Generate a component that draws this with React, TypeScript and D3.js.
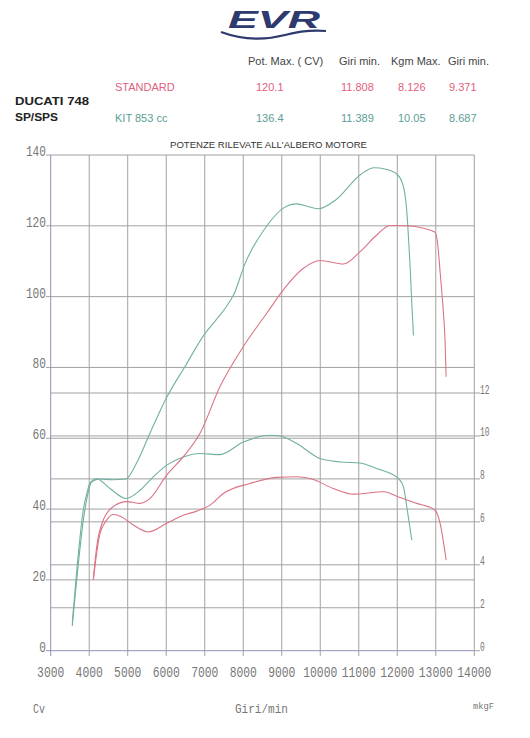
import * as d3 from 'd3';

// header table
const headCols = ['Pot. Max. ( CV)', 'Giri min.', 'Kgm Max.', 'Giri min.'];
const standardRow = ['120.1', '11.808', '8.126', '9.371'];
const kitRow = ['136.4', '11.389', '10.05', '8.687'];

// axes
const rpmTicks = [3000, 4000, 5000, 6000, 7000, 8000, 9000, 10000, 11000, 12000, 13000, 14000];
const cvTicks = [0, 20, 40, 60, 80, 100, 120, 140];
const kgmTicks = [0, 2, 4, 6, 8, 10, 12];

// KIT 853 cc
const kitPowerRpm = [3560, 3675, 3850, 3950, 4065, 4280, 4600, 4950, 5230, 5580, 6010, 6500, 7000, 7300, 7550, 7750, 8050, 8600, 9040, 9390, 9700, 9950, 10400, 11050, 11400, 11700, 12000, 12150, 12240, 12300, 12340, 12380, 12420];
const kitPowerCv = [7, 20, 37, 43.5, 47.7, 48.5, 48.3, 48.5, 53, 61.5, 71.5, 80.5, 89.5, 93.5, 97, 100.5, 109.4, 119.8, 125, 126.2, 125.4, 124.8, 127.3, 134.5, 136.4, 136, 134.5, 131.5, 125, 115, 107, 97.5, 89];
const kitTorqueRpm = [3560, 3680, 3850, 3950, 4020, 4195, 4540, 4956, 5319, 5579, 6013, 6444, 6878, 7397, 8003, 8696, 8956, 9390, 9995, 10514, 11034, 11467, 12030, 12160, 12247, 12377];
const kitTorqueKgm = [1.3, 3.8, 6.6, 7.4, 7.8, 8.0, 7.55, 7.09, 7.47, 7.94, 8.64, 9.02, 9.18, 9.13, 9.72, 10.03, 10.0, 9.65, 8.95, 8.79, 8.74, 8.48, 8.02, 7.63, 6.7, 5.15];

// STANDARD
const stdPowerRpm = [4107, 4195, 4366, 4626, 4974, 5319, 5579, 6013, 6444, 6878, 7397, 8003, 8610, 9040, 9561, 9995, 10600, 11034, 11467, 11808, 12247, 12678, 12982, 13042, 13112, 13182, 13241, 13268];
const stdPowerCv = [20.2, 29.4, 36.9, 40.7, 42.1, 41.6, 43, 49.6, 54.8, 61.4, 74.6, 85.9, 95.3, 101.9, 108, 110.2, 109.2, 112.7, 117.4, 120.1, 120, 119.3, 118.2, 115.5, 107, 97.7, 87.3, 77.4];
const stdTorqueRpm = [4107, 4280, 4454, 4626, 4844, 5145, 5535, 6013, 6444, 6792, 7138, 7483, 8177, 8870, 9390, 9821, 10340, 10860, 11639, 12073, 12506, 12982, 13112, 13268];
const stdTorqueKgm = [3.3, 5.46, 6.08, 6.34, 6.23, 5.85, 5.53, 5.93, 6.31, 6.5, 6.78, 7.32, 7.79, 8.07, 8.1, 7.97, 7.55, 7.29, 7.4, 7.13, 6.86, 6.54, 5.93, 4.22];

const RED = '#dc7384';
const TEAL = '#72b0a2';
const GRID = '#a2a2a2';
const AXIS = '#8b90bd';
const LABEL = '#777';

function App() {
  const width = 530;
  const height = 738;
  const x = d3.scaleLinear([3000, 14000], [50.7, 474.3]);
  const yP = d3.scaleLinear([0, 140], [650.7, 155]);
  const yT = d3.scaleLinear([0, 12], [650.7, 393]);

  const lineOf = (xs: number[], ys: number[], y: d3.ScaleLinear<number, number>) =>
    d3.line<number>((d) => x(d), (d, i) => y(ys[i])).curve(d3.curveMonotoneX)(xs) ?? undefined;

  const colX = [248, 339, 391, 448];
  const valX = [256, 341, 398, 449];

  return (
    <svg width={width} height={height} style={{ position: 'absolute', left: 0, top: 0, background: '#fff' }}>
      {/* logo */}
      <text x={228} y={27.5} fontFamily="Liberation Sans" fontWeight="bold" fontStyle="italic"
        fontSize={24} fill="#2e3a6e" textLength={92} lengthAdjust="spacingAndGlyphs">EVR</text>
      <path d="M221,32 C240,39 262,41 285,35 C300,31 314,30 326,31" fill="none" stroke="#2e3a6e" strokeWidth={2.2} />

      {/* header table */}
      <g fontFamily="Liberation Sans" fontSize={11}>
        {headCols.map((t, i) => (
          <text key={t + i} x={colX[i]} y={65} fill="#444">{t}</text>
        ))}
        <text x={115} y={91} fill="#e0607c">STANDARD</text>
        {standardRow.map((t, i) => (
          <text key={'s' + i} x={valX[i]} y={91} fill="#e0607c">{t}</text>
        ))}
        <text x={115} y={121.5} fill="#5a9e96">KIT 853 cc</text>
        {kitRow.map((t, i) => (
          <text key={'k' + i} x={valX[i]} y={121.5} fill="#5a9e96">{t}</text>
        ))}
        <text x={15} y={105} fontWeight="bold" fill="#222" textLength={74} lengthAdjust="spacingAndGlyphs">DUCATI 748</text>
        <text x={15} y={121} fontWeight="bold" fill="#222" textLength={43} lengthAdjust="spacingAndGlyphs">SP/SPS</text>
      </g>

      <text x={268.5} y={147.5} textAnchor="middle" fontFamily="Liberation Sans" fontSize={9.5} fill="#333"
        textLength={197} lengthAdjust="spacingAndGlyphs">POTENZE RILEVATE ALL'ALBERO MOTORE</text>

      {/* grid */}
      <g strokeWidth={1} fill="none">
        {cvTicks.map((t) => (
          <line key={'cv' + t} x1={46} x2={x(14000)} y1={yP(t)} y2={yP(t)} stroke={t === 0 ? AXIS : GRID} />
        ))}
        {kgmTicks.filter((t) => t > 0).map((t) => (
          <line key={'kg' + t} x1={x(3000)} x2={480} y1={yT(t)} y2={yT(t)} stroke={GRID} />
        ))}
        <line x1={x(14000)} x2={480} y1={yT(0)} y2={yT(0)} stroke={GRID} />
        {rpmTicks.map((t) => (
          <line key={'r' + t} x1={x(t)} x2={x(t)} y1={yP(140)} y2={656} stroke={t === 3000 ? AXIS : GRID} />
        ))}
      </g>

      {/* tick labels */}
      <g fontFamily="Liberation Mono" fill={LABEL}>
        {cvTicks.map((t) => (
          <text key={'cvl' + t} x={46} y={yP(t) + 1} textAnchor="end" fontSize={14}
            textLength={String(t).length * 6.7} lengthAdjust="spacingAndGlyphs">{t}</text>
        ))}
        {kgmTicks.map((t) => (
          <text key={'kgl' + t} x={480} y={yT(t) + 0.5} fontSize={12.5}
            textLength={String(t).length * 4.8} lengthAdjust="spacingAndGlyphs">{t}</text>
        ))}
        {rpmTicks.map((t) => (
          <text key={'rl' + t} x={x(t)} y={677} textAnchor="middle" fontSize={14}
            textLength={String(t).length * 6.8} lengthAdjust="spacingAndGlyphs">{t}</text>
        ))}
        <text x={33} y={713} fontSize={13} textLength={12} lengthAdjust="spacingAndGlyphs">Cv</text>
        <text x={261.5} y={713} textAnchor="middle" fontSize={13} textLength={53} lengthAdjust="spacingAndGlyphs">Giri/min</text>
        <text x={473} y={709} fontSize={9} textLength={21} lengthAdjust="spacingAndGlyphs">mkgF</text>
      </g>

      {/* curves */}
      <g fill="none" strokeWidth={1.1}>
        <path d={lineOf(kitPowerRpm, kitPowerCv, yP)} stroke={TEAL} />
        <path d={lineOf(kitTorqueRpm, kitTorqueKgm, yT)} stroke={TEAL} />
        <path d={lineOf(stdPowerRpm, stdPowerCv, yP)} stroke={RED} />
        <path d={lineOf(stdTorqueRpm, stdTorqueKgm, yT)} stroke={RED} />
      </g>
    </svg>
  );
}

export default App;
